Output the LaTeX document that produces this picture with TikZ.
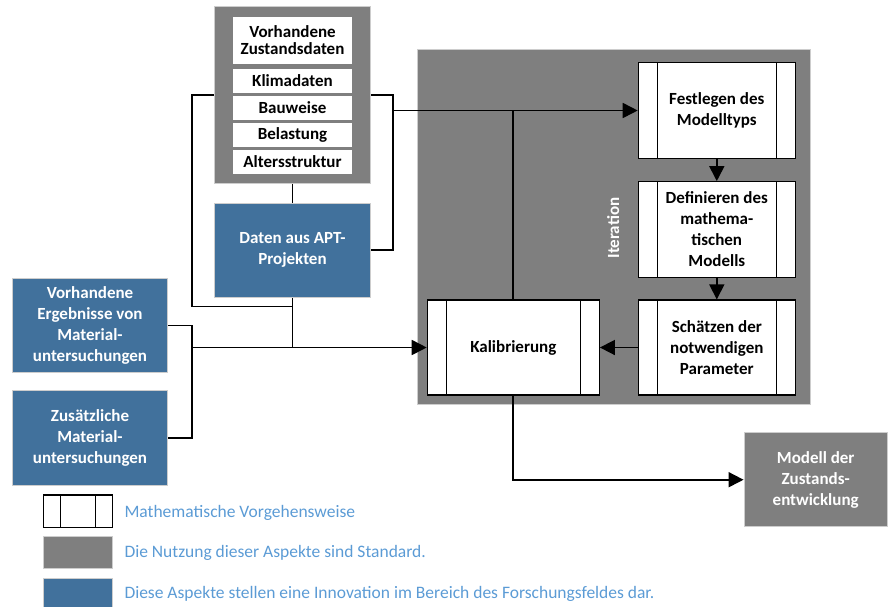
\documentclass[tikz,border=0pt]{standalone}
\usepackage{fontspec}
\setmainfont{Carlito}
\usetikzlibrary{arrows.meta}
\definecolor{boxgray}{RGB}{127,127,127}
\definecolor{boxblue}{RGB}{65,113,156}
\definecolor{legblue}{RGB}{91,155,213}
\definecolor{edgegray}{RGB}{205,205,205}
\tikzset{
  lbl/.style={font=\fontsize{17}{21}\selectfont\bfseries, align=center, inner sep=0pt},
  graybox/.style={lbl, fill=boxgray, draw=edgegray, line width=1pt, text=white},
  bluebox/.style={lbl, fill=boxblue, draw=edgegray, line width=1pt, text=white},
  whitebox/.style={lbl, fill=white, draw=none, text=black},
  mathbox/.style={lbl, fill=white, draw=black, line width=1.2pt, text=black,
    path picture={\draw[line width=1.2pt]
      ([xshift=#1]path picture bounding box.north west) -- ([xshift=#1]path picture bounding box.south west)
      ([xshift=-#1]path picture bounding box.north east) -- ([xshift=-#1]path picture bounding box.south east);}},
  mathbox/.default=19pt,
  conn/.style={line width=1.7pt, black},
  arr/.style={conn, -{Triangle[length=15pt,width=15pt]}},
  legtext/.style={font=\fontsize{17.5}{21}\selectfont, text=legblue, anchor=west, inner sep=0pt}
}
\begin{document}
\begin{tikzpicture}[x=1pt,y=-1pt]
\useasboundingbox (0,0) rectangle (888,606);

% top data container
\node[graybox, minimum width=156.5pt, minimum height=176.5pt] (top) at (292.5,95) {};
\node[whitebox, minimum width=118.4pt, minimum height=47pt, font=\fontsize{17}{17}\selectfont\bfseries] (vz) at (292.5,40.5) {Vorhandene\\Zustandsdaten};
\node[whitebox, minimum width=118.4pt, minimum height=24pt] (klima) at (292.5,80.5) {Klimadaten};
\node[whitebox, minimum width=118.4pt, minimum height=24pt] (bau) at (292.5,107.5) {Bauweise};
\node[whitebox, minimum width=118.4pt, minimum height=24pt] (bel) at (292.5,134.5) {Belastung};
\node[whitebox, minimum width=118.4pt, minimum height=24pt] (alt) at (292.5,161.5) {Altersstruktur};

% APT
\node[bluebox, minimum width=156.4pt, minimum height=94.5pt] (apt) at (292.5,250.25) {Daten aus APT-\\Projekten};

% left blue boxes
\node[bluebox, minimum width=155.4pt, minimum height=94.4pt] (ve) at (90,325.5) {Vorhandene\\Ergebnisse von\\Material-\\untersuchungen};
\node[bluebox, minimum width=155.4pt, minimum height=94.3pt] (zm) at (90,437.85) {Zusätzliche\\Material-\\untersuchungen};

% iteration container
\node[graybox, minimum width=392.7pt, minimum height=355.2pt] (iter) at (613.65,226.9) {};
\node[lbl, text=white, rotate=90] (itlbl) at (613.3,228) {Iteration};

\node[mathbox, minimum width=157pt, minimum height=95.6pt] (fest) at (716.8,110.5) {Festlegen des\\Modelltyps};
\node[mathbox, minimum width=157pt, minimum height=95.6pt] (def) at (716.8,229.5) {Definieren des\\mathema-\\tischen\\Modells};
\node[mathbox, minimum width=157pt, minimum height=95pt] (sch) at (716.8,347.5) {Schätzen der\\notwendigen\\Parameter};
\node[mathbox, minimum width=172pt, minimum height=95pt] (kal) at (513.3,347.5) {Kalibrierung};

% result
\node[graybox, minimum width=143.3pt, minimum height=94pt] (mod) at (815.7,479.7) {Modell der\\Zustands-\\entwicklung};

% connectors
\coordinate (jTL) at (192,306.5);
\coordinate (jR) at (393,110.5);
\coordinate (mL) at (192,347.5);

\draw[conn] (top.west) -| (jTL) -- (apt.south |- jTL);
\draw[conn] (top.east) -| (jR) |- (apt.east);
\draw[conn] (top.south) -- (apt.north);
\draw[conn] (apt.south) -- (apt.south |- mL);
\draw[conn] (ve.east) -| (mL) |- (zm.east);
\draw[arr] (mL) -- (kal.west);
\draw[arr] (jR) -- (fest.west);
\draw[conn] (kal.north) -- (kal.north |- jR);
\draw[arr] (fest.south) -- (def.north);
\draw[arr] (def.south) -- (sch.north);
\draw[arr] (sch.west) -- (kal.east);
\draw[arr] (kal.south) |- (mod.west);

% legend
\node[mathbox=17.5pt, minimum width=69.4pt, minimum height=32.7pt] (lg1) at (78,511.3) {};
\node[graybox, minimum width=69.4pt, minimum height=32.3pt] (lg2) at (78,552.8) {};
\node[bluebox, minimum width=69.4pt, minimum height=32.3pt] (lg3) at (78,594.5) {};
\node[legtext] (lt1) at (124.3,513) {Mathematische Vorgehensweise};
\node[legtext] (lt2) at (124.3,552.5) {Die Nutzung dieser Aspekte sind Standard.};
\node[legtext] (lt3) at (124.3,594) {Diese Aspekte stellen eine Innovation im Bereich des Forschungsfeldes dar.};
\end{tikzpicture}
\end{document}
